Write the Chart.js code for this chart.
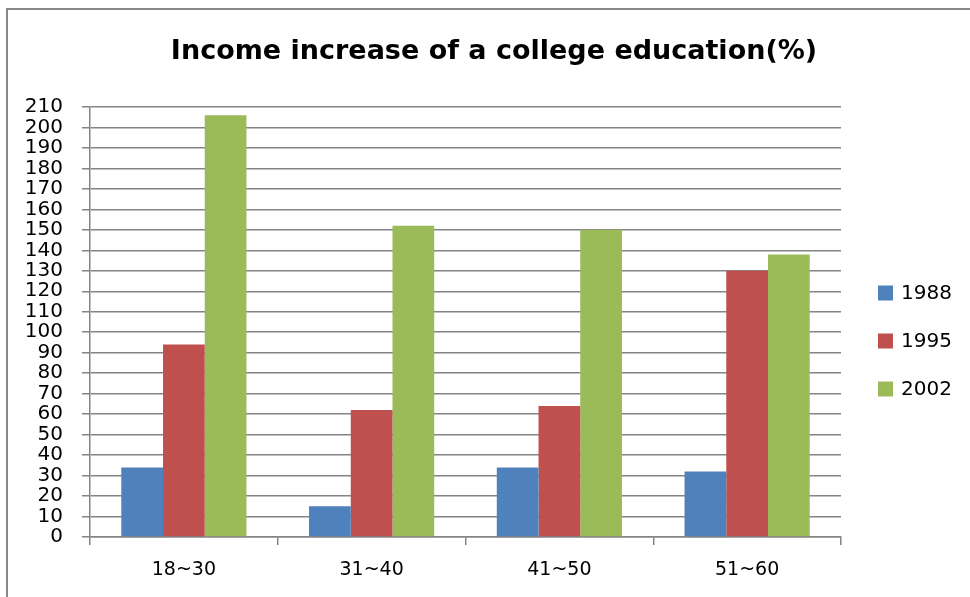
<!DOCTYPE html>
<html>
<head>
<meta charset="utf-8">
<script src="https://cdn.jsdelivr.net/npm/chart.js@4"></script>
<style>
  html, body { margin: 0; padding: 0; background: #ffffff; }
  #wrap { width: 970px; height: 597px; position: relative; }
</style>
</head>
<body>
<div id="wrap"><canvas id="chart" width="970" height="597"></canvas></div>
<script>
// Age groups along the x axis
const ageGroups = ['18~30', '31~40', '41~50', '51~60'];

// Income increase (%) per survey year
const series1988 = [34, 15, 34, 32];
const series1995 = [94, 62, 64, 130];
const series2002 = [206, 152, 150, 138];

const seriesNames = ['1988', '1995', '2002'];
const seriesColors = ['#4F81BD', '#C0504D', '#9BBB59'];

const titleText = 'Income increase of a college education(%)';
const yMax = 210;
const yStep = 10;

const gridGray = '#848484';
const fontFamily = '"DejaVu Sans", sans-serif';

// Outer frame around the whole chart
const framePlugin = {
  id: 'frame',
  beforeDraw(chart) {
    const ctx = chart.ctx;
    ctx.save();
    ctx.fillStyle = '#ffffff';
    ctx.fillRect(0, 0, chart.width, chart.height);
    ctx.strokeStyle = '#888888';
    ctx.lineWidth = 2;
    ctx.beginPath();
    ctx.moveTo(7, chart.height + 2);
    ctx.lineTo(7, 9);
    ctx.lineTo(chart.width + 2, 9);
    ctx.stroke();
    ctx.restore();
  }
};

// Legend on the right, one entry per dataset
const sideLegendPlugin = {
  id: 'sideLegend',
  afterDraw(chart) {
    const ctx = chart.ctx;
    const area = chart.chartArea;
    const box = 15;
    const rowGap = 48;
    const x0 = area.right + 37;
    const midY = 341;
    const n = chart.data.datasets.length;
    ctx.save();
    ctx.font = '20px ' + fontFamily;
    ctx.textBaseline = 'middle';
    ctx.textAlign = 'left';
    chart.data.datasets.forEach((ds, i) => {
      const cy = midY + (i - (n - 1) / 2) * rowGap;
      ctx.fillStyle = ds.backgroundColor;
      ctx.fillRect(x0, cy - box / 2, box, box);
      ctx.fillStyle = '#000000';
      ctx.fillText(ds.label, x0 + box + 8, cy + 1);
    });
    ctx.restore();
  }
};

const seriesValues = [series1988, series1995, series2002];

new Chart(document.getElementById('chart'), {
  type: 'bar',
  data: {
    labels: ageGroups,
    datasets: seriesNames.map((name, i) => ({
      label: name,
      data: seriesValues[i],
      backgroundColor: seriesColors[i],
      borderWidth: 0,
      barPercentage: 1.0,
      categoryPercentage: 3 / 4.5
    }))
  },
  options: {
    responsive: false,
    animation: false,
    devicePixelRatio: 1,
    layout: { padding: { left: 18, right: 0, top: 0, bottom: 0 } },
    plugins: {
      legend: { display: false },
      tooltip: { enabled: false },
      title: {
        display: true,
        text: titleText,
        color: '#000000',
        font: { family: fontFamily, size: 27, weight: 'bold', lineHeight: 1.2 },
        padding: { top: 36, bottom: 38.6 }
      }
    },
    scales: {
      x: {
        offset: true,
        grid: {
          display: true,
          offset: true,
          drawOnChartArea: false,
          drawTicks: true,
          tickLength: 8,
          color: gridGray,
          lineWidth: 1.5
        },
        border: { display: true, color: gridGray, width: 1.5 },
        ticks: {
          color: '#000000',
          font: { family: fontFamily, size: 19 },
          padding: 14,
          maxRotation: 0
        },
        afterFit(scale) { scale.height = 60; }
      },
      y: {
        min: 0,
        max: yMax,
        grid: {
          color: gridGray,
          lineWidth: 1.5,
          drawTicks: true,
          tickLength: 8
        },
        border: { display: true, color: gridGray, width: 1.5 },
        ticks: {
          stepSize: yStep,
          autoSkip: false,
          color: '#000000',
          font: { family: fontFamily, size: 20, lineHeight: 1 },
          padding: 19
        },
        afterFit(scale) { scale.width = 72; }
      },
      // empty column on the right that holds the legend
      legendSpace: {
        type: 'linear',
        position: 'right',
        display: true,
        grid: { display: false, drawTicks: false },
        border: { display: false },
        ticks: { display: false },
        afterFit(scale) { scale.width = 129; }
      }
    }
  },
  plugins: [framePlugin, sideLegendPlugin]
});
</script>
</body>
</html>
